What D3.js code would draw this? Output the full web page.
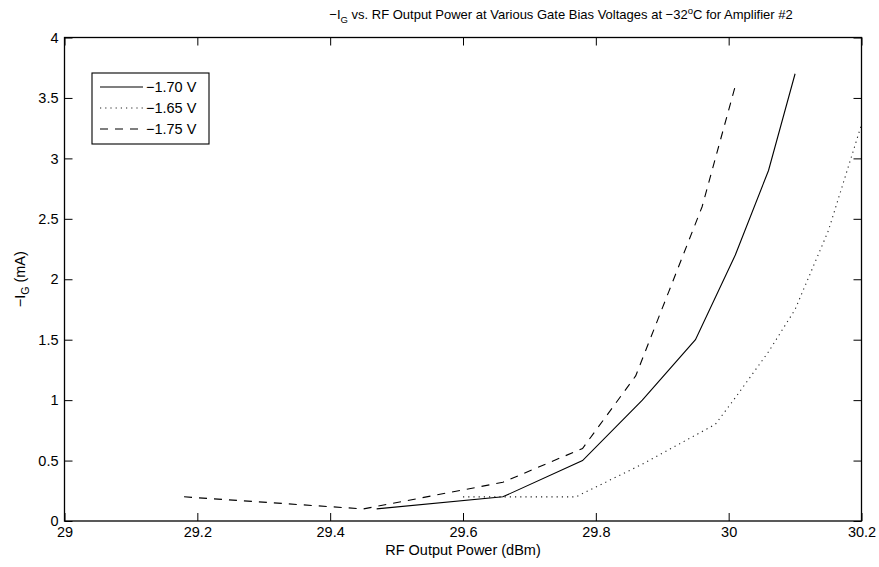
<!DOCTYPE html>
<html><head><meta charset="utf-8">
<script src="https://cdn.jsdelivr.net/npm/d3@7"></script>
<style>body{margin:0;background:#fff} text{font-family:"Liberation Sans",Arial,Helvetica,sans-serif;fill:#000}</style>
</head><body><svg id="c" width="879" height="567"></svg>
<script>
const xTicks=[29,29.2,29.4,29.6,29.8,30,30.2];
const yTicks=[0,0.5,1,1.5,2,2.5,3,3.5,4];
const seriesNames=["\u22121.70 V","\u22121.65 V","\u22121.75 V"];
const x170=[29.47,29.66,29.78,29.87,29.95,30.01,30.06,30.1];
const y170=[0.1,0.2,0.5,1.0,1.5,2.2,2.9,3.7];
const x165=[29.6,29.77,29.87,29.98,30.01,30.06,30.1,30.15,30.2];
const y165=[0.2,0.2,0.47,0.8,1.02,1.4,1.75,2.4,3.28];
const x175=[29.18,29.45,29.66,29.78,29.86,29.91,29.96,30.01];
const y175=[0.2,0.1,0.32,0.6,1.2,1.9,2.6,3.6];

const svg=d3.select("#c");
const L=64.5,R=861.5,T=37.5,B=521;
const x=d3.scaleLinear().domain([29,30.2]).range([L,R]);
const y=d3.scaleLinear().domain([0,4]).range([B,T]);
const fs=14.5;

const series=[
  {name:seriesNames[0],xs:x170,ys:y170,dash:null,color:"#000"},
  {name:seriesNames[1],xs:x165,ys:y165,dash:"1.2,4",color:"#222"},
  {name:seriesNames[2],xs:x175,ys:y175,dash:"8,7",color:"#000"}
];

svg.append("rect").attr("x",L).attr("y",T).attr("width",R-L).attr("height",B-T).attr("fill","#fff");

const fmt=d=>String(+d.toFixed(1));
const gx=svg.append("g").attr("transform",`translate(0,${B})`)
  .call(d3.axisBottom(x).tickValues(xTicks).tickFormat(fmt).tickSizeInner(-8).tickSizeOuter(0).tickPadding(6));
const gy=svg.append("g").attr("transform",`translate(${L},0)`)
  .call(d3.axisLeft(y).tickValues(yTicks).tickFormat(fmt).tickSizeInner(-8).tickSizeOuter(0).tickPadding(6));
const gt=svg.append("g").attr("transform",`translate(0,${T})`)
  .call(d3.axisTop(x).tickValues(xTicks).tickFormat("").tickSizeInner(-8).tickSizeOuter(0));
const gr=svg.append("g").attr("transform",`translate(${R},0)`)
  .call(d3.axisRight(y).tickValues(yTicks).tickFormat("").tickSizeInner(-8).tickSizeOuter(0));
[gx,gy,gt,gr].forEach(g=>{
  g.select(".domain").remove();
  g.selectAll(".tick line").attr("stroke","#000").attr("stroke-width",1);
  g.selectAll("text").style("font-size",fs+"px").style("font-family","'Liberation Sans',Arial,sans-serif").attr("fill","#000");
});
svg.append("rect").attr("x",L).attr("y",T).attr("width",R-L).attr("height",B-T)
  .attr("fill","none").attr("stroke","#000").attr("stroke-width",1.3);

const line=d3.line().x(d=>x(d[0])).y(d=>y(d[1]));
series.forEach(s=>{
  const pts=s.xs.map((v,i)=>[v,s.ys[i]]);
  svg.append("path").datum(pts).attr("d",line).attr("fill","none")
    .attr("stroke",s.color).attr("stroke-width",1.1)
    .attr("stroke-dasharray",s.dash);
});

// legend
const lg=svg.append("g");
lg.append("rect").attr("x",92).attr("y",73).attr("width",117).attr("height",71)
  .attr("fill","#fff").attr("stroke","#000").attr("stroke-width",1.1);
series.forEach((s,i)=>{
  const yy=87+i*21;
  lg.append("line").attr("x1",100).attr("x2",143).attr("y1",yy).attr("y2",yy)
    .attr("stroke",s.color).attr("stroke-width",1.1).attr("stroke-dasharray",s.dash);
  lg.append("text").attr("x",146).attr("y",yy).attr("dy","0.35em")
    .style("font-size",fs+"px").text(s.name);
});

// title
const title=svg.append("text").attr("x",561).attr("y",19).attr("text-anchor","middle").style("font-size","13px");
title.append("tspan").text("\u2212I");
title.append("tspan").attr("dy",4).style("font-size","9.5px").text("G");
title.append("tspan").attr("dy",-4).text(" vs. RF Output Power at Various Gate Bias Voltages at \u221232");
title.append("tspan").attr("dy",-5).style("font-size","9.5px").text("o");
title.append("tspan").attr("dy",5).text("C for Amplifier #2");

// x label
svg.append("text").attr("x",(L+R)/2).attr("y",555).attr("text-anchor","middle")
  .style("font-size",fs+"px").text("RF Output Power (dBm)");
// y label
const yl=svg.append("text").attr("transform",`translate(25,${(T+B)/2}) rotate(-90)`).attr("text-anchor","middle").style("font-size",fs+"px");
yl.append("tspan").text("\u2212I");
yl.append("tspan").attr("dy",4).style("font-size","10.5px").text("G");
yl.append("tspan").attr("dy",-4).text(" (mA)");
</script></body></html>
